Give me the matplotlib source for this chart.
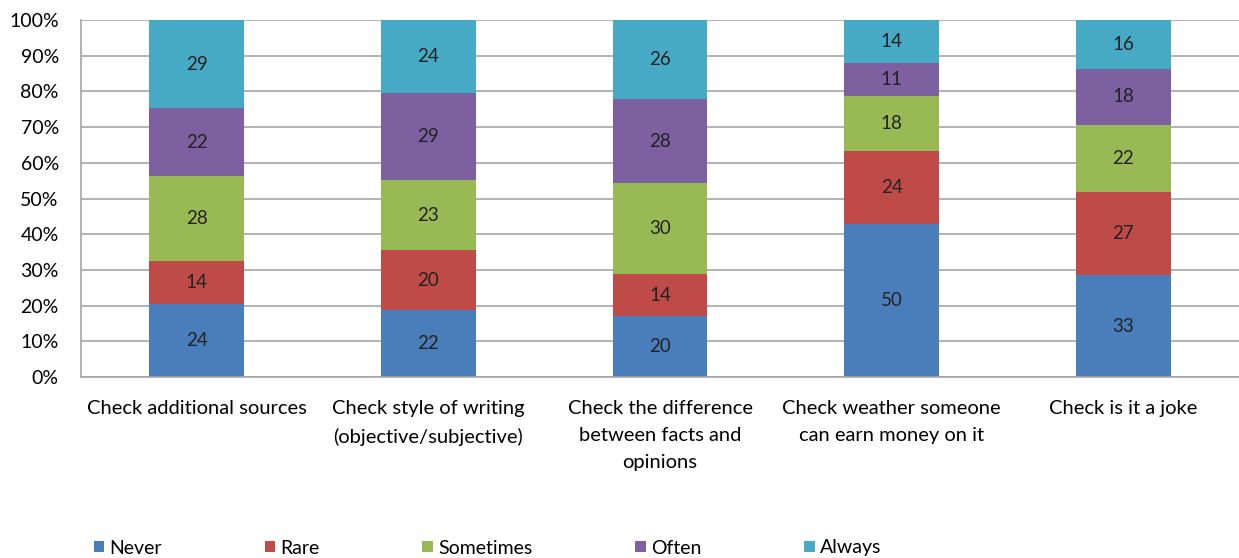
import numpy as np
import matplotlib.pyplot as plt

plt.rcParams['font.family'] = ['Lato', 'DejaVu Sans']

# --- datos ---
categorias = ['Check additional sources',
              'Check style of writing\n(objective/subjective)',
              'Check the difference\nbetween facts and\nopinions',
              'Check weather someone\ncan earn money on it',
              'Check is it a joke']
series = ['Never', 'Rare', 'Sometimes', 'Often', 'Always']
never = [24, 22, 20, 50, 33]
rare = [14, 20, 14, 24, 27]
sometimes = [28, 23, 30, 18, 22]
often = [22, 29, 28, 11, 18]
always = [29, 24, 26, 14, 16]
colores = ['#4A7EBB', '#BE4B48', '#98B954', '#7D60A0', '#46AAC5']

valores = np.array([never, rare, sometimes, often, always], dtype=float)
totales = valores.sum(axis=0)
porcentajes = valores / totales

fig = plt.figure(figsize=(12.39, 5.58), dpi=100)
ax = fig.add_axes([81/1239, 1 - 377/558, 1 - 81/1239, 357/558])

x = np.arange(len(categorias))
base = np.zeros(len(categorias))
for i, nombre in enumerate(series):
    ax.bar(x, porcentajes[i], 0.41, bottom=base, color=colores[i], label=nombre, zorder=2)
    for j in range(len(categorias)):
        ax.text(x[j], base[j] + porcentajes[i][j] / 2, str(int(valores[i][j])),
                ha='center', va='center', fontsize=13.5, color='#222222', zorder=3)
    base += porcentajes[i]

ax.set_xlim(-0.5, len(categorias) - 0.5)
ax.set_ylim(0, 1)
ax.set_yticks(np.arange(0, 1.01, 0.1))
ax.set_yticklabels([f'{int(round(v*100))}%' for v in np.arange(0, 1.01, 0.1)], fontsize=14)
ax.set_xticks(x)
ax.set_xticklabels(categorias, fontsize=14.5, va='top', linespacing=1.7)
ax.tick_params(axis='x', length=0, pad=16.5)
ax.tick_params(axis='y', length=0, pad=16)
ax.yaxis.grid(True, color='#a6a6a6', linewidth=1.2, zorder=0)
ax.set_axisbelow(True)
for lado in ['top', 'right']:
    ax.spines[lado].set_visible(False)
ax.spines['left'].set_color('#a6a6a6')
ax.spines['bottom'].set_color('#a6a6a6')
ax.spines['left'].set_linewidth(1.2)
ax.spines['bottom'].set_linewidth(1.2)

fig.legend(loc='center left', bbox_to_anchor=(76/1239, 1 - 548/558), ncol=5,
           frameon=False, fontsize=14, handlelength=0.55, handleheight=0.55,
           handletextpad=0.25, columnspacing=5.3)

fig.savefig('out.png', dpi=100)
